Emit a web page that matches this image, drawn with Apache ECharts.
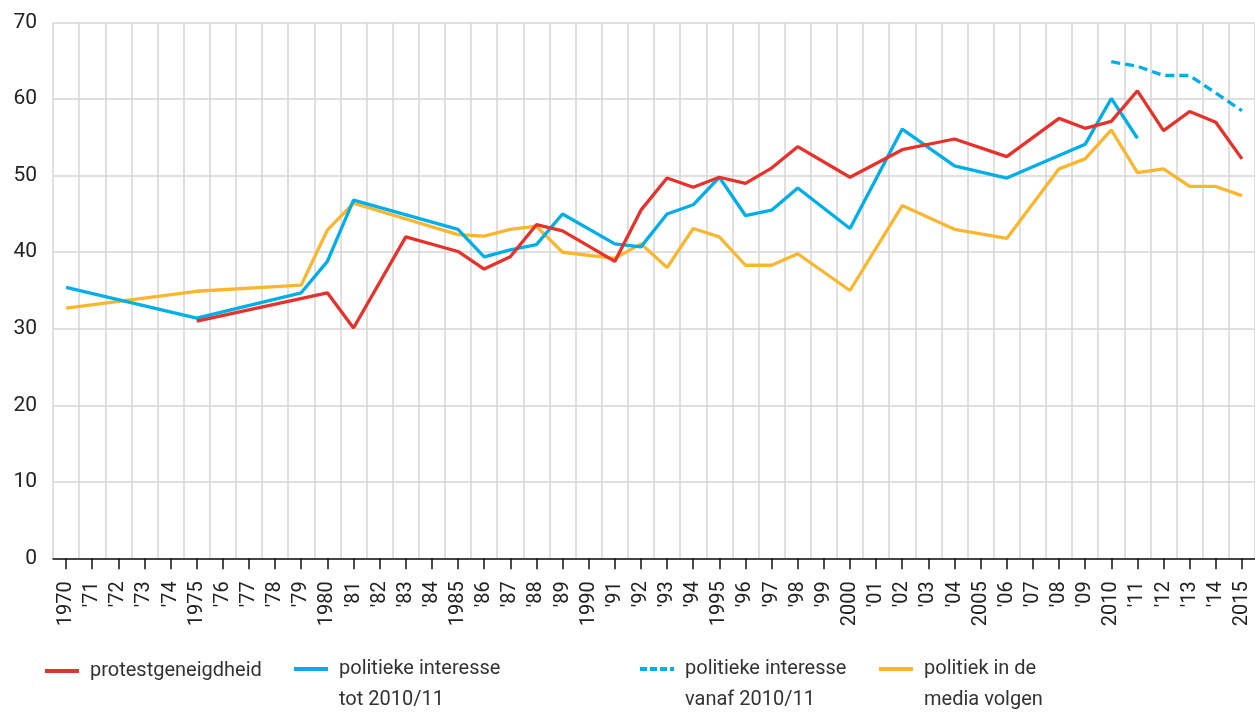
<!DOCTYPE html>
<html>
<head>
<meta charset="utf-8">
<script src="https://cdn.jsdelivr.net/npm/echarts@6/dist/echarts.min.js"></script>
<style>
html,body{margin:0;padding:0;background:#fff;}
#chart{width:1255px;height:713px;}
</style>
</head>
<body>
<div id="chart"></div>
<script>
const categories = ["1970","'71","'72","'73","'74","1975","'76","'77","'78","'79",
  "1980","'81","'82","'83","'84","1985","'86","'87","'88","'89",
  "1990","'91","'92","'93","'94","1995","'96","'97","'98","'99",
  "2000","'01","'02","'03","'04","2005","'06","'07","'08","'09",
  "2010","'11","'12","'13","'14","2015"];

const protest = [null,null,null,null,null,31.0,null,null,null,null,
  34.7,30.1,null,42.0,null,40.1,37.8,39.4,43.6,42.8,
  null,38.8,45.5,49.7,48.5,49.8,49.0,51.0,53.8,null,
  49.8,null,53.4,null,54.8,null,52.5,null,57.5,56.2,
  57.1,61.1,55.9,58.4,57.0,52.2];

const interesseTot = [35.4,null,null,null,null,31.4,null,null,null,34.7,
  38.8,46.8,null,null,null,43.0,39.4,40.3,41.0,45.0,
  null,41.1,40.7,45.0,46.2,49.8,44.8,45.5,48.4,null,
  43.1,null,56.1,null,51.3,null,49.7,null,null,54.1,
  60.1,54.9,null,null,null,null];

const interesseVanaf = [null,null,null,null,null,null,null,null,null,null,
  null,null,null,null,null,null,null,null,null,null,
  null,null,null,null,null,null,null,null,null,null,
  null,null,null,null,null,null,null,null,null,null,
  64.9,64.3,63.1,63.1,60.8,58.5];

const media = [32.7,null,null,null,null,34.9,null,null,null,35.7,
  42.9,46.4,null,null,null,42.3,42.1,43.0,43.4,40.0,
  null,39.2,41.1,38.0,43.1,42.0,38.3,38.3,39.8,null,
  35.0,null,46.1,null,43.0,null,41.8,null,50.9,52.2,
  56.0,50.4,50.9,48.6,48.6,47.4];

const names = ['protestgeneigdheid','politieke interesse\ntot 2010/11','politieke interesse\nvanaf 2010/11','politiek in de\nmedia volgen'];
const colors = ['#e8312a','#00aee8','#00aee8','#fbb62f'];

const FONT = 'Roboto';
const chart = echarts.init(document.getElementById('chart'), null, {renderer:'canvas'});

function lineSeries(name, data, color, type, z){
  return {
    name: name, type: 'line', data: data, symbol: 'none', connectNulls: true,
    z: z, animation: false,
    lineStyle: {color: color, width: 3.3, type: type || 'solid'},
    itemStyle: {color: color}
  };
}

function legend(name, left, twoLine, dashed){
  return {
    data: [name], left: left, top: twoLine ? 622.5 : 655.5, padding: 0,
    itemWidth: 34, itemHeight: 14, selectedMode: false,
    itemStyle: {opacity: 0},
    lineStyle: {width: 4, type: dashed ? [7,3] : 'solid'},
    // a blank first line keeps the icon level with the first text line
    formatter: twoLine ? function(n){ return ' \n' + n; } : '{name}',
    textStyle: {fontFamily: FONT, fontSize: 20, color: '#333', lineHeight: 31,
      padding: [0,0,0,6]}
  };
}

chart.setOption({
  animation: false,
  grid: {left: 53, right: -4, top: 22.7, bottom: 154.7, containLabel: false},
  xAxis: {
    type: 'category', data: categories, boundaryGap: true,
    axisLine: {show: true, lineStyle: {color: '#111', width: 1.5}},
    axisTick: {show: true, alignWithLabel: true, interval: 0, length: 11, lineStyle: {color: '#111', width: 1.5}},
    axisLabel: {interval: 0, rotate: 90, margin: 23, fontFamily: FONT, fontSize: 20, color: '#222'},
    splitLine: {show: true, interval: 0, lineStyle: {color: '#d6d6d6', width: 1.5}}
  },
  yAxis: {
    type: 'value', min: 0, max: 70, interval: 10,
    axisLine: {show: false}, axisTick: {show: false},
    axisLabel: {margin: 16, fontFamily: FONT, fontSize: 21, color: '#222'},
    splitLine: {show: true, lineStyle: {color: '#d6d6d6', width: 1.5}}
  },
  legend: [
    legend(names[0], 43, false, false),
    legend(names[1], 292, true, false),
    legend(names[2], 638, true, true),
    legend(names[3], 877, true, false)
  ],
  series: [
    lineSeries(names[3], media, colors[3], 'solid', 2),
    lineSeries(names[1], interesseTot, colors[1], 'solid', 3),
    lineSeries(names[2], interesseVanaf, colors[2], [9,5], 3),
    lineSeries(names[0], protest, colors[0], 'solid', 4)
  ]
});
</script>
</body>
</html>
